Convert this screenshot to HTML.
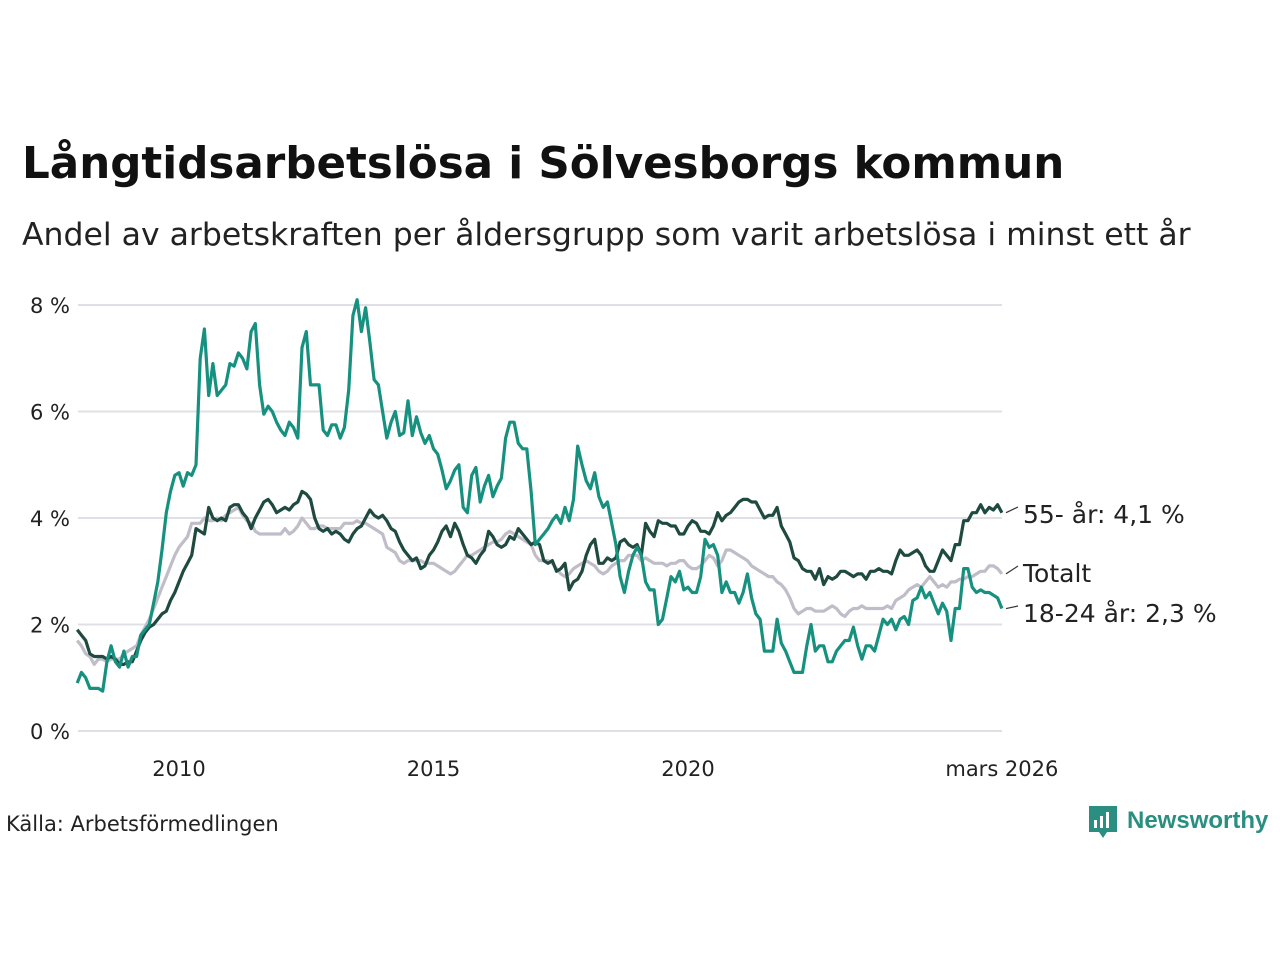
<!DOCTYPE html>
<html><head><meta charset="utf-8">
<style>
body{margin:0;background:#fff;width:1280px;height:960px;overflow:hidden;font-family:"Liberation Sans","DejaVu Sans",sans-serif;}
svg text{font-family:"DejaVu Sans","Liberation Sans",sans-serif;}
</style></head><body>
<svg id="chart" width="1280" height="960">
<text x="22" y="178" font-size="43.6" font-weight="bold" fill="#111">Långtidsarbetslösa i Sölvesborgs kommun</text>
<text x="22" y="245" font-size="31.5" fill="#222">Andel av arbetskraften per åldersgrupp som varit arbetslösa i minst ett år</text>
<g id="grid"></g><g id="xaxis"></g><g id="lines"></g><g id="labels"></g>
<text x="6" y="831" font-size="21" fill="#222">Källa: Arbetsförmedlingen</text>
<g>
<path d="M1089 806 h28 v26 h-10 l-4 6 l-4 -6 h-10 z" fill="#2a8f80"/>
<rect x="1094" y="820" width="3" height="8" fill="#fff"/><rect x="1100" y="816" width="3" height="12" fill="#fff"/><rect x="1106" y="812" width="3" height="16" fill="#fff"/>
<text x="1127" y="828" font-size="24" font-weight="bold" fill="#2a8f80" style="font-family:'Liberation Sans',sans-serif">Newsworthy</text>
</g>
</svg>
<script>
const yTicks=[0,2,4,6,8];
const yTickLabels=["0 %","2 %","4 %","6 %","8 %"];
const xTicks=[24,84,144,218];
const xTickLabels=["2010","2015","2020","mars 2026"];
const young=[0.9,1.1,1.0,0.8,0.8,0.8,0.75,1.3,1.6,1.3,1.2,1.5,
1.2,1.4,1.4,1.8,1.9,2.0,2.4,2.8,3.4,4.1,4.5,4.8,
4.85,4.6,4.85,4.8,5.0,7.0,7.55,6.3,6.9,6.3,6.4,6.5,
6.9,6.85,7.1,7.0,6.8,7.5,7.65,6.5,5.95,6.1,6.0,5.8,
5.65,5.55,5.8,5.7,5.5,7.2,7.5,6.5,6.5,6.5,5.65,5.55,
5.75,5.75,5.5,5.7,6.4,7.8,8.1,7.5,7.95,7.3,6.6,6.5,
6.0,5.5,5.8,6.0,5.55,5.6,6.2,5.55,5.9,5.6,5.4,5.55,
5.3,5.2,4.9,4.55,4.7,4.9,5.0,4.2,4.1,4.8,4.95,4.3,
4.6,4.8,4.4,4.6,4.75,5.5,5.8,5.8,5.4,5.3,5.3,4.5,
3.5,3.6,3.7,3.8,3.95,4.05,3.9,4.2,3.95,4.35,5.35,5.0,
4.7,4.55,4.85,4.4,4.2,4.3,3.9,3.5,2.9,2.6,3.0,3.3,
3.45,3.3,2.8,2.65,2.65,2.0,2.1,2.5,2.9,2.8,3.0,2.65,
2.7,2.6,2.6,2.9,3.6,3.45,3.5,3.3,2.6,2.8,2.6,2.6,
2.4,2.6,2.95,2.5,2.2,2.1,1.5,1.5,1.5,2.1,1.65,1.5,
1.3,1.1,1.1,1.1,1.6,2.0,1.5,1.6,1.6,1.3,1.3,1.5,
1.6,1.7,1.7,1.95,1.6,1.35,1.6,1.6,1.5,1.8,2.1,2.0,
2.1,1.9,2.1,2.15,2.0,2.45,2.5,2.7,2.5,2.6,2.4,2.2,
2.4,2.25,1.7,2.3,2.3,3.05,3.05,2.7,2.6,2.65,2.6,2.6,
2.55,2.5,2.3];
const older=[1.9,1.8,1.7,1.45,1.4,1.4,1.4,1.35,1.4,1.35,1.25,1.25,
1.3,1.3,1.5,1.7,1.85,1.95,2.0,2.1,2.2,2.25,2.45,2.6,
2.8,3.0,3.15,3.3,3.8,3.75,3.7,4.2,4.0,3.95,4.0,3.95,
4.2,4.25,4.25,4.1,4.0,3.8,4.0,4.15,4.3,4.35,4.25,4.1,
4.15,4.2,4.15,4.25,4.3,4.5,4.45,4.35,4.0,3.8,3.75,3.8,
3.7,3.75,3.7,3.6,3.55,3.7,3.8,3.85,4.0,4.15,4.05,4.0,
4.05,3.95,3.8,3.75,3.55,3.4,3.3,3.2,3.25,3.05,3.1,3.3,
3.4,3.55,3.75,3.85,3.65,3.9,3.75,3.5,3.3,3.25,3.15,3.3,
3.4,3.75,3.65,3.5,3.45,3.5,3.65,3.6,3.8,3.7,3.6,3.5,
3.55,3.5,3.2,3.15,3.2,3.0,3.05,3.15,2.65,2.8,2.85,3.0,
3.3,3.5,3.6,3.15,3.15,3.25,3.2,3.25,3.55,3.6,3.5,3.45,
3.5,3.3,3.9,3.75,3.65,3.95,3.9,3.9,3.85,3.85,3.7,3.7,
3.85,3.95,3.9,3.75,3.75,3.7,3.85,4.1,3.95,4.05,4.1,4.2,
4.3,4.35,4.35,4.3,4.3,4.15,4.0,4.05,4.05,4.2,3.85,3.7,
3.55,3.25,3.2,3.05,3.0,3.0,2.85,3.05,2.75,2.9,2.85,2.9,
3.0,3.0,2.95,2.9,2.95,2.95,2.85,3.0,3.0,3.05,3.0,3.0,
2.95,3.2,3.4,3.3,3.3,3.35,3.4,3.3,3.1,3.0,3.0,3.2,
3.4,3.3,3.2,3.5,3.5,3.95,3.95,4.1,4.1,4.25,4.1,4.2,
4.15,4.25,4.1];
const total=[1.7,1.6,1.45,1.4,1.25,1.35,1.35,1.3,1.35,1.35,1.35,1.45,
1.5,1.55,1.6,1.8,1.95,2.1,2.3,2.5,2.7,2.9,3.1,3.3,
3.45,3.55,3.65,3.9,3.9,3.9,4.0,3.95,3.95,4.0,3.95,4.05,
4.1,4.15,4.2,4.05,3.95,3.9,3.75,3.7,3.7,3.7,3.7,3.7,
3.7,3.8,3.7,3.75,3.85,4.0,3.9,3.8,3.8,3.85,3.85,3.8,
3.8,3.8,3.8,3.9,3.9,3.9,3.95,3.9,3.9,3.85,3.8,3.75,
3.7,3.45,3.4,3.35,3.2,3.15,3.2,3.2,3.2,3.2,3.15,3.15,
3.15,3.1,3.05,3.0,2.95,3.0,3.1,3.2,3.3,3.3,3.35,3.4,
3.45,3.5,3.55,3.55,3.6,3.7,3.75,3.7,3.65,3.6,3.55,3.5,
3.3,3.2,3.2,3.2,3.15,3.05,2.95,2.9,2.95,3.05,3.1,3.15,
3.2,3.15,3.1,3.0,2.95,3.0,3.1,3.15,3.2,3.2,3.3,3.3,
3.3,3.2,3.25,3.2,3.15,3.15,3.15,3.1,3.15,3.15,3.2,3.2,
3.1,3.05,3.05,3.1,3.2,3.3,3.25,3.1,3.2,3.4,3.4,3.35,
3.3,3.25,3.2,3.1,3.05,3.0,2.95,2.9,2.9,2.8,2.75,2.65,
2.5,2.3,2.2,2.25,2.3,2.3,2.25,2.25,2.25,2.3,2.35,2.3,
2.2,2.15,2.25,2.3,2.3,2.35,2.3,2.3,2.3,2.3,2.3,2.35,
2.3,2.45,2.5,2.55,2.65,2.7,2.75,2.7,2.8,2.9,2.8,2.7,
2.75,2.7,2.8,2.8,2.85,2.85,2.9,2.9,2.95,3.0,3.0,3.1,
3.1,3.05,2.95];
const seriesLabels=["55- år: 4,1 %","Totalt","18-24 år: 2,3 %"];
const NS="http://www.w3.org/2000/svg";
const X=i=>179+(i-24)*50.9/12;
const Y=v=>731-v*53.25;
function mk(tag,attrs,parent){const e=document.createElementNS(NS,tag);for(const k in attrs)e.setAttribute(k,attrs[k]);parent.appendChild(e);return e;}
const grid=document.getElementById('grid');
yTicks.forEach((t,k)=>{
 const l=mk('line',{x1:78,x2:1002,y1:Y(t),y2:Y(t),stroke:'#e0dfe5','stroke-width':2},grid);
 
 
 const tx=mk('text',{x:70,y:Y(t)+8,'font-size':21,fill:'#222','text-anchor':'end'},grid);
 tx.textContent=yTickLabels[k];
 
 
});
const xa=document.getElementById('xaxis');
xTicks.forEach((t,k)=>{
 const tx=mk('text',{x:X(t),y:776,'font-size':21,fill:'#222','text-anchor':'middle'},xa);
 tx.textContent=xTickLabels[k];
 
 
});
const lines=document.getElementById('lines');
function draw(arr,color,name){
 const p=mk('polyline',{points:arr.map((v,i)=>X(i).toFixed(1)+','+Y(v).toFixed(1)).join(' '),fill:'none',stroke:color,'stroke-width':3.2,'stroke-linejoin':'round'},lines);
 
 
}
draw(total,'#c0bdc9','line-totalt');
draw(older,'#1f4a40','line-55-ar');
draw(young,'#17917f','line-18-24-ar');
const lab=document.getElementById('labels');
const ends=[older,total,young];
const labY=[515,574,614];
ends.forEach((a,k)=>{
 const ly=mk('line',{x1:1006,y1:Y(a[a.length-1]),x2:1018,y2:labY[k]-8,stroke:'#333','stroke-width':1.2},lab);
 
 
 const tx=mk('text',{x:1023,y:labY[k]+8,'font-size':25,fill:'#222'},lab);
 tx.textContent=seriesLabels[k];
 
 
});
</script>
</body></html>
